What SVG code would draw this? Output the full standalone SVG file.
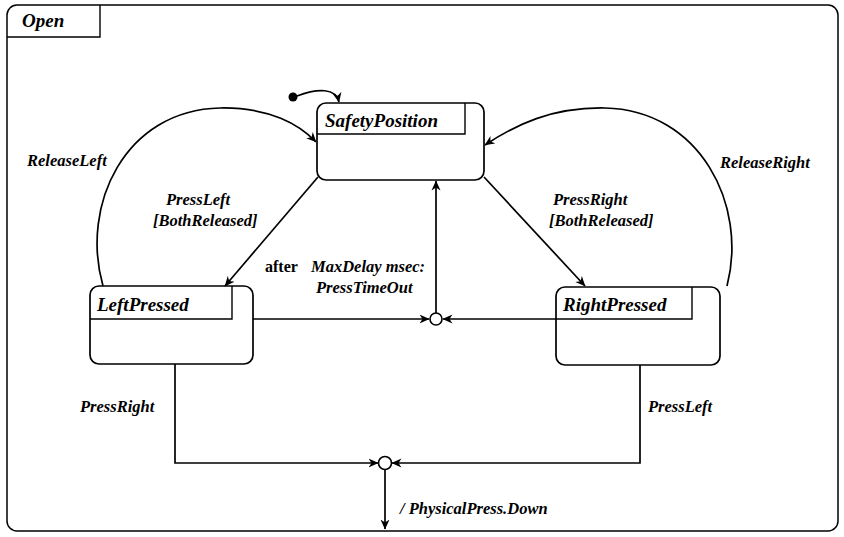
<svg xmlns="http://www.w3.org/2000/svg" width="844" height="537" viewBox="0 0 844 537">
  <style>
    .frame { fill: none; stroke: #000; stroke-width: 1.5; }
    .state { fill: #fff; stroke: #000; stroke-width: 1.7; }
    .tab { fill: none; stroke: #000; stroke-width: 1.4; }
    .edge { fill: none; stroke: #000; stroke-width: 1.7; }
    .name { font-family: "Liberation Serif", "DejaVu Serif", serif; font-style: italic; font-weight: bold; font-size: 19px; fill: #000; }
    .lbl { font-family: "Liberation Serif", "DejaVu Serif", serif; font-style: italic; font-weight: bold; font-size: 16.5px; fill: #000; }
    .kw { font-family: "Liberation Serif", "DejaVu Serif", serif; font-weight: bold; font-size: 16px; fill: #000; }
    .junction { fill: #fff; stroke: #000; stroke-width: 1.6; }
  </style>
  <defs>
    <marker id="arrow" viewBox="0 0 10 10" refX="9.5" refY="5" markerWidth="10" markerHeight="10" markerUnits="userSpaceOnUse" orient="auto">
      <path d="M0,0.5 L10,5 L0,9.5 L3,5 Z" fill="#000"/>
    </marker>
  </defs>

  <!-- enclosing superstate -->
  <g id="Open">
    <rect class="frame" x="7" y="5" width="831" height="526" rx="10"/>
    <path class="tab" d="M7,37 H100 V5"/>
    <text class="name" x="22" y="27" font-size="18">Open</text>
  </g>

  <g id="initial">
    <circle cx="293" cy="97" r="4.5" fill="#000"/>
  </g>

  <g id="SafetyPosition">
    <rect class="state" x="317" y="103" width="167" height="77" rx="9"/>
    <path class="tab" d="M317,134 H465 V103"/>
    <text class="name" x="325" y="127">SafetyPosition</text>
  </g>

  <g id="LeftPressed">
    <rect class="state" x="90" y="286" width="163" height="78" rx="9"/>
    <path class="tab" d="M90,319 H232 V286"/>
    <text class="name" x="97" y="311">LeftPressed</text>
  </g>

  <g id="RightPressed">
    <rect class="state" x="556" y="287" width="164" height="78" rx="9"/>
    <path class="tab" d="M556,319 H692 V287"/>
    <text class="name" x="563" y="311">RightPressed</text>
  </g>

  <g id="junctionTimeout">
    <circle class="junction" cx="436" cy="319" r="6"/>
  </g>

  <g id="junctionPress">
    <circle class="junction" cx="385" cy="463" r="6.5"/>
  </g>

  <g id="connectors">
    <!-- default entry -->
    <path class="edge" d="M297,96 C318,88 336,88 339,102" marker-end="url(#arrow)"/>
    <!-- releases back to the safety position -->
    <path class="edge" d="M103,286 C80,205 125,110 220,108 C270,107 300,125 316,142" marker-end="url(#arrow)"/>
    <path class="edge" d="M727,286 C748,205 700,110 605,108 C552,107 515,125 485,145" marker-end="url(#arrow)"/>
    <!-- single-button presses -->
    <path class="edge" d="M318,177 L225,286" marker-end="url(#arrow)"/>
    <path class="edge" d="M484,177 L585,286" marker-end="url(#arrow)"/>
    <!-- timeout junction -->
    <path class="edge" d="M253,319 H429" marker-end="url(#arrow)"/>
    <path class="edge" d="M556,319 H443" marker-end="url(#arrow)"/>
    <path class="edge" d="M436,313 V181" marker-end="url(#arrow)"/>
    <!-- two-hand press junction -->
    <path class="edge" d="M175,364 V463 H378" marker-end="url(#arrow)"/>
    <path class="edge" d="M640,365 V463 H392" marker-end="url(#arrow)"/>
    <path class="edge" d="M385,470 V529" marker-end="url(#arrow)"/>
  </g>

  <g id="labels">
    <text class="lbl" x="27" y="166">ReleaseLeft</text>
    <text class="lbl" x="720" y="168">ReleaseRight</text>
    <text class="lbl" x="166" y="205">PressLeft</text>
    <text class="lbl" x="153" y="226">[BothReleased]</text>
    <text class="lbl" x="553" y="205">PressRight</text>
    <text class="lbl" x="549" y="226">[BothReleased]</text>
    <text class="kw" x="265" y="272">after</text>
    <text class="lbl" x="311" y="272">MaxDelay msec:</text>
    <text class="lbl" x="316" y="293">PressTimeOut</text>
    <text class="lbl" x="80" y="412">PressRight</text>
    <text class="lbl" x="648" y="412">PressLeft</text>
    <text class="lbl" x="400" y="514">/ PhysicalPress.Down</text>
  </g>
</svg>
